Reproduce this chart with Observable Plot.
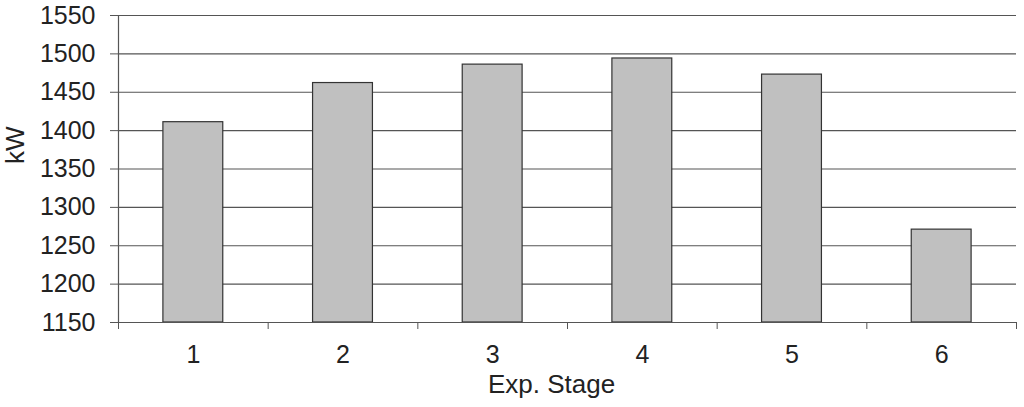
<!DOCTYPE html>
<html><head><meta charset="utf-8">
<script src="https://cdn.jsdelivr.net/npm/d3@7"></script>
<script src="https://cdn.jsdelivr.net/npm/@observablehq/plot@0.6"></script>
<style>
html,body{margin:0;padding:0;background:#fff;}
</style>
</head><body>
<div id="chart"></div>
<script>
const stages = [1, 2, 3, 4, 5, 6];
const power = [1411, 1462, 1486, 1494, 1473, 1271];
const yTicks = [1150, 1200, 1250, 1300, 1350, 1400, 1450, 1500, 1550];
const xLabel = "Exp. Stage";
const yLabel = "kW";

const data = stages.map((s, i) => ({stage: s, value: power[i]}));
const boundaries = [0.5, ...stages.map(s => s + 0.5)];
const halfBar = 0.2;
const FONT = "'Liberation Sans', Arial, sans-serif";

const chart = Plot.plot({
  width: 1024,
  height: 407,
  marginLeft: 118,
  marginRight: 8,
  marginTop: 15,
  marginBottom: 85,
  style: {fontFamily: FONT, fontSize: "25px", color: "#222", background: "#fff"},
  x: {type: "linear", domain: [0.5, 6.5]},
  y: {domain: [1150, 1550]},
  marks: [
    Plot.gridY(yTicks, {stroke: "#555", strokeOpacity: 1, strokeWidth: 1.2}),
    Plot.rectY(data, {
      x1: d => d.stage - halfBar,
      x2: d => d.stage + halfBar,
      y1: 1150,
      y2: "value",
      fill: "#c0c0c0",
      stroke: "#333",
      strokeWidth: 1.2
    }),
    Plot.axisY(yTicks, {tickSize: 8, tickPadding: 15, stroke: "#555", label: null, fontSize: 25, fill: "#222", tickFormat: d => String(d)}),
    Plot.ruleX([0.5], {stroke: "#555", strokeWidth: 1.2}),
    Plot.ruleY([1150], {stroke: "#555", strokeWidth: 1.2}),
    Plot.axisX(boundaries, {tickSize: 7, tickFormat: () => "", stroke: "#555", label: null}),
    Plot.axisX(stages, {tickSize: 0, tickPadding: 23, label: null, fontSize: 25, fill: "#222", tickFormat: d => String(d)}),
    Plot.text([xLabel], {frameAnchor: "bottom", dy: 70, dx: -16, fontSize: 26, fill: "#222"}),
    Plot.text([yLabel], {frameAnchor: "left", rotate: -90, dx: -103, dy: -5, fontSize: 26, fill: "#222"})
  ]
});
document.getElementById("chart").appendChild(chart);
</script>
</body></html>
